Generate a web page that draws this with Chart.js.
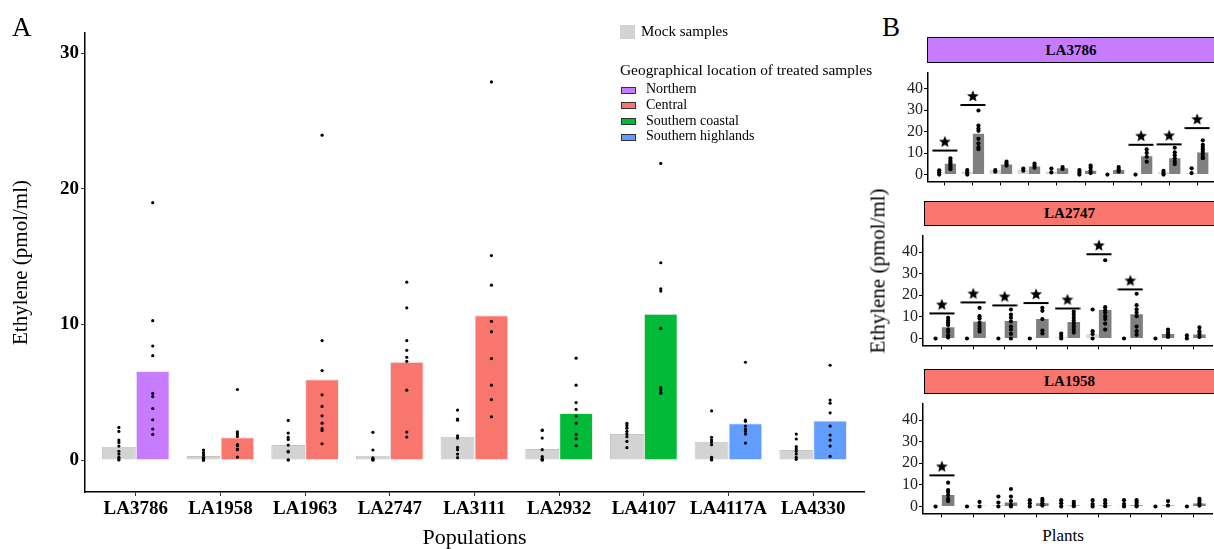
<!DOCTYPE html>
<html>
<head>
<meta charset="utf-8">
<script src="https://cdn.jsdelivr.net/npm/chart.js@4.4.0/dist/chart.umd.min.js"></script>
<style>
body { margin: 0; background: #fff; }
#wrap { position: relative; width: 1214px; height: 549px; overflow: hidden; font-family: "Liberation Serif", "Times New Roman", serif; color: #000; }
#wrap canvas { position: absolute; }
.lbl { position: absolute; white-space: nowrap; line-height: 1; }
.strip { position: absolute; box-sizing: border-box; border: 1.5px solid #000; font-weight: bold; font-size: 15px; display: flex; align-items: center; justify-content: center; }
.key { position: absolute; left: 621px; width: 15px; height: 7px; border: 1px solid #333; box-sizing: border-box; }
</style>
</head>
<body>
<div id="wrap">
  <canvas id="chartA" width="870" height="549" style="left:0;top:0"></canvas>
  <canvas id="chartB1" width="334" height="130" style="left:880px;top:62px"></canvas>
  <canvas id="chartB2" width="334" height="131" style="left:880px;top:225px"></canvas>
  <canvas id="chartB3" width="334" height="131" style="left:880px;top:393px"></canvas>

  <div class="lbl" style="left:12px;top:14px;font-size:27px">A</div>
  <div class="lbl" style="left:882px;top:14px;font-size:27px">B</div>

  <div id="legend"></div>

  <div class="strip" style="left:927px;top:37px;width:288px;height:26px;background:#C77CFF">LA3786</div>
  <div class="strip" style="left:924px;top:201px;width:291px;height:25px;background:#F8766D">LA2747</div>
  <div class="strip" style="left:924px;top:369px;width:291px;height:25px;background:#F8766D">LA1958</div>

  <div class="lbl" style="left:878px;top:271px;font-size:21px;transform:translate(-50%,-50%) rotate(-90deg)">Ethylene (pmol/ml)</div>
  <div class="lbl" style="left:1063px;top:535px;font-size:17px;transform:translate(-50%,-50%)">Plants</div>
</div>

<script>
// ---- panel A data ----
const populations = ['LA3786', 'LA1958', 'LA1963', 'LA2747', 'LA3111', 'LA2932', 'LA4107', 'LA4117A', 'LA4330'];
const popRegion = ['Northern', 'Central', 'Central', 'Central', 'Central', 'Southern coastal', 'Southern coastal', 'Southern highlands', 'Southern highlands'];
const regionNames = ['Northern', 'Central', 'Southern coastal', 'Southern highlands'];
const regionColors = ['#C77CFF', '#F8766D', '#00BA38', '#619CFF'];
const yTicksA = [0, 10, 20, 30];

const mockMean = [0.98, 0.29, 1.10, 0.32, 1.72, 0.81, 1.91, 1.35, 0.74];
const treatedMean = [6.57, 1.67, 5.96, 7.24, 10.67, 3.46, 10.79, 2.72, 2.92];

const mockPts = [
	[2.40, 2.11, 1.47, 1.30, 1.03, 0.64, 0.44, 0.20, 0.07, 0],
	[0.74, 0.55, 0.39, 0.20, 0.10, 0.02, 0, 0, 0],
	[2.92, 1.99, 1.67, 1.52, 1.10, 0.64, 0.59, 0.02, 0],
	[2.04, 0.74, 0.15, 0.05, 0, 0],
	[3.68, 3.02, 2.94, 1.79, 1.62, 0.93, 0.76, 0.44, 0.17],
	[2.21, 2.18, 1.62, 0.76, 0.25, 0.10, 0.05, 0, 0],
	[2.70, 2.53, 2.35, 2.11, 1.91, 1.72, 1.37, 0.91],
	[3.63, 1.67, 1.47, 1.32, 1.13, 0.20, 0.05, 0],
	[1.91, 1.55, 0.98, 0.81, 0.64, 0.44, 0.20, 0.05]
];
const treatedPts = [
	[18.98, 10.28, 8.41, 7.70, 4.91, 4.68, 3.80, 2.97, 2.28, 1.89],
	[5.20, 2.08, 1.91, 1.74, 1.13, 1.05, 0.81, 0.76, 0.22],
	[23.96, 8.81, 6.60, 4.81, 3.95, 3.26, 2.72, 2.31, 2.18, 1.20],
	[13.12, 11.23, 8.81, 8.09, 7.58, 7.28, 5.15, 2.06, 1.69],
	[27.89, 15.08, 12.90, 10.23, 9.47, 7.48, 5.52, 4.46, 3.19],
	[7.51, 5.52, 4.24, 3.73, 3.24, 2.72, 1.89, 1.57, 1.05],
	[21.88, 14.55, 12.63, 12.46, 9.71, 5.35, 5.18, 4.98, 4.93],
	[7.21, 2.94, 2.85, 2.50, 2.28, 2.11, 1.91, 1.25],
	[6.99, 4.42, 4.19, 3.48, 2.50, 1.84, 1.47, 1.03, 0.27]
];

// ---- panel B data ----
const yTicksB = [0, 10, 20, 30, 40];

const b1Mock = [0.3, 1.4, 2.1, 2.2, 1.4, 0.3, 0, 0, 1.1, 0.7];
const b1Treated = [5.0, 19.0, 4.7, 3.75, 2.9, 1.8, 2.1, 8.6, 7.6, 10.3];
const b1MockPts = [[2.0, 1.0, 0], [2.1, 1.0, 0], [2.1, 1.3], [2.8, 1.8], [2.8, 1.0], [2.1, 1.0, 0], [0], [0], [1.7, 0.7, 0], [2.9, 0.7]];
const b1TreatedPts = [
	[7.6, 6.5, 5.6, 4.9, 4.0, 3.2, 2.5], [29.9, 22.9, 21.5, 20.4, 16.7, 14.6, 12.8, 11.8], [6.0, 5.1, 4.2],
	[5.1, 4.2, 3.2], [3.5, 2.6], [4.2, 3.2, 1.8, 0.7], [3.5, 2.5, 1.4], [11.8, 10.1, 8.3, 6.0],
	[12.5, 10.4, 9.0, 7.6, 6.0, 4.9], [16.0, 13.9, 12.9, 11.8, 10.7, 9.7, 8.3, 7.6]
];
const b1Sig = [11.2, 32.5, null, null, null, null, null, 13.9, 14.1, 21.7];

const b2Mock = [0, 0, 0, 0, 0.6, 2.1, 0, 0, 0.3];
const b2Treated = [5.2, 7.7, 8.1, 9.0, 7.6, 13.2, 11.2, 2.1, 1.8];
const b2MockPts = [[0], [0], [0], [0], [2.3, 1.2, 0], [13.4, 3.4, 2.1, 0], [0], [0], [1.4, 0]];
const b2TreatedPts = [
	[9.6, 8.3, 7.3, 6.2, 4.1, 3.0, 1.4, 0.4], [14.2, 10.3, 9.2, 7.3, 5.9, 4.4, 3.2], [13.4, 11.0, 9.6, 7.9, 5.5, 4.1, 2.1, 0],
	[14.2, 12.8, 9.0, 3.7, 2.3], [12.4, 11.0, 9.6, 8.3, 6.9, 5.5, 4.1, 2.75], [36.2, 14.5, 13.1, 12.0, 10.3, 9.0, 6.9, 4.1],
	[20.7, 15.4, 13.5, 12.0, 10.3, 5.5, 3.4, 1.7], [4.1, 2.8, 1.7, 0.7], [5.1, 3.4, 2.1, 0.7]
];
const b2Sig = [11.6, 16.7, 15.3, 16.4, 13.9, 39.0, 22.7, null, null];

const b3Mock = [0, 0, 0.7, 0.3, 0.3, 0.3, 0.4, 0, 0];
const b3Treated = [5.3, 0.3, 1.8, 1.5, 0.4, 0.4, 0.6, 0.4, 1.4];
const b3MockPts = [[0], [0], [4.6, 1.8, 0], [2.9, 1.5, 0], [2.9, 1.5, 0], [2.9, 1.1, 0], [2.9, 1.1, 0], [0], [0]];
const b3TreatedPts = [
	[11.0, 7.6, 6.7, 5.3, 3.5, 2.5], [2.1, 0], [8.1, 4.6, 2.5, 0.7, 0], [3.5, 2.5, 1.5, 0.4], [2.2, 1.1, 0.1],
	[2.9, 1.5, 0.1], [2.9, 1.8, 0.7, 0], [2.5, 0.4], [3.5, 2.5, 1.5, 0.4]
];
const b3Sig = [14.4, null, null, null, null, null, null, null, null];

const serif = "'Liberation Serif', 'Times New Roman', serif";
Chart.defaults.font.family = serif;

/* legend for panel A */
const legend = document.getElementById('legend');
legend.innerHTML =
	'<div style="position:absolute;left:620px;top:25px;width:15px;height:14px;background:#d3d3d3"></div>' +
	'<div class="lbl" style="left:641px;top:24px;font-size:15px">Mock samples</div>' +
	'<div class="lbl" style="left:620px;top:62px;font-size:15.4px">Geographical location of treated samples</div>';
regionNames.forEach(function(name, k) {
	const cy = 90 + k * 15.7;
	legend.innerHTML += '<div class="key" style="top:' + (cy - 3.5) + 'px;background:' + regionColors[k] + '"></div>' +
		'<div class="lbl" style="left:646px;top:' + (cy - 7.7) + 'px;font-size:14px">' + name + '</div>';
});

/* significance mark: bar with a star above it */
function makeSigMark() {
	const c = document.createElement('canvas');
	c.width = 26;
	c.height = 34;
	const g = c.getContext('2d');
	g.fillStyle = '#000';
	g.fillRect(0.5, 16, 25, 2);
	g.beginPath();
	for (let k = 0; k < 10; k++) {
		const a = -Math.PI / 2 + k * Math.PI / 5;
		const r = k % 2 ? 2.7 : 6.2;
		g.lineTo(13 + r * Math.cos(a), 8.5 + r * Math.sin(a));
	}
	g.closePath();
	g.fill();
	return c;
}
const sigMark = makeSigMark();

function barData(values) {
	return values.map((v, i) => ({ x: i + 1, y: v }));
}
function pointData(groups, shift) {
	const out = [];
	groups.forEach((g, i) => g.forEach(v => out.push({ x: i + 1 + shift, y: v })));
	return out;
}
function sigData(values) {
	const out = [];
	values.forEach((v, i) => { if (v !== null) out.push({ x: i + 1, y: v }); });
	return out;
}

/* Panel A */
new Chart(document.getElementById('chartA'), {
	type: 'bar',
	data: {
		datasets: [{
			label: 'Mock samples',
			data: barData(mockMean),
			backgroundColor: '#d3d3d3',
			borderColor: '#c4c4c4',
			borderWidth: 1,
			categoryPercentage: 0.8,
			barPercentage: 1,
			order: 2
		}, {
			label: 'Treated',
			data: barData(treatedMean),
			backgroundColor: popRegion.map(r => regionColors[regionNames.indexOf(r)]),
			borderColor: 'rgba(0,0,0,0.08)',
			borderWidth: 1,
			categoryPercentage: 0.8,
			barPercentage: 1,
			order: 2
		}, {
			type: 'scatter',
			data: pointData(mockPts, -0.2),
			pointRadius: 1.6,
			pointBackgroundColor: '#000',
			pointBorderWidth: 0,
			order: 1
		}, {
			type: 'scatter',
			data: pointData(treatedPts, 0.2),
			pointRadius: 1.6,
			pointBackgroundColor: '#000',
			pointBorderWidth: 0,
			order: 1
		}]
	},
	options: {
		responsive: false,
		animation: false,
		layout: { padding: { top: 33, right: 6, left: 0, bottom: 0 }, autoPadding: false },
		plugins: { legend: { display: false }, tooltip: { enabled: false } },
		scales: {
			x: {
				type: 'linear',
				offset: false,
				min: 0.4,
				max: 9.6,
				afterBuildTicks: ax => { ax.ticks = populations.map((p, i) => ({ value: i + 1 })); },
				afterFit: ax => { ax.height = 57; },
				ticks: {
					autoSkip: false, maxRotation: 0, padding: 2, color: '#000',
					font: { size: 19, weight: 'bold' },
					callback: v => populations[v - 1]
				},
				grid: { offset: false, drawOnChartArea: false, tickLength: 4, color: '#333' },
				border: { color: '#000', width: 1.5 },
				title: { display: true, text: 'Populations', color: '#000', font: { size: 22, lineHeight: 1 }, padding: 0 }
			},
			y: {
				min: -2.36,
				max: 31.5,
				afterBuildTicks: ax => { ax.ticks = yTicksA.map(v => ({ value: v })); },
				afterFit: ax => { ax.width = 85; },
				ticks: { padding: 2, color: '#000', font: { size: 19, weight: 'bold' } },
				grid: { drawOnChartArea: false, tickLength: 4, color: '#333' },
				border: { color: '#000', width: 1.5 },
				title: { display: true, text: 'Ethylene (pmol/ml)', color: '#000', font: { size: 21, lineHeight: 1 }, padding: { top: 11, bottom: 11 } }
			}
		}
	}
});

/* Panel B facets */
function facetChart(id, mock, treated, mockP, treatedP, sig, axisWidth, rightPad) {
	const n = mock.length;
	new Chart(document.getElementById(id), {
		type: 'bar',
		data: {
			datasets: [{
				data: barData(mock),
				backgroundColor: '#d9d9d9',
				categoryPercentage: 0.8,
				barPercentage: 1,
				order: 2
			}, {
				data: barData(treated),
				backgroundColor: '#7f7f7f',
				categoryPercentage: 0.8,
				barPercentage: 1,
				order: 2
			}, {
				type: 'scatter',
				data: pointData(mockP, -0.2),
				pointRadius: 2.1,
				pointBackgroundColor: '#000',
				pointBorderWidth: 0,
				order: 1
			}, {
				type: 'scatter',
				data: pointData(treatedP, 0.2),
				pointRadius: 2.1,
				pointBackgroundColor: '#000',
				pointBorderWidth: 0,
				order: 1
			}, {
				type: 'scatter',
				data: sigData(sig),
				pointStyle: sigMark,
				pointRadius: 3,
				order: 0
			}]
		},
		options: {
			responsive: false,
			animation: false,
			layout: { padding: { top: 0, right: rightPad, left: 0, bottom: 0 }, autoPadding: false },
			plugins: { legend: { display: false }, tooltip: { enabled: false } },
			scales: {
				x: {
					type: 'linear',
					offset: false,
					min: 0.4,
					max: n + 0.6,
					afterBuildTicks: ax => { ax.ticks = mock.map((v, i) => ({ value: i + 1 })); },
					afterFit: ax => { ax.height = 8; },
					ticks: { autoSkip: false, maxRotation: 0, callback: () => '' },
					grid: { offset: false, drawOnChartArea: false, tickLength: 4, color: '#000' },
					border: { color: '#000', width: 1.5 }
				},
				y: {
					min: -3.2,
					max: 47.6,
					afterBuildTicks: ax => { ax.ticks = yTicksB.map(v => ({ value: v })); },
					afterFit: ax => { ax.width = axisWidth; },
					ticks: { padding: 1, color: '#222', font: { size: 16 } },
					grid: { drawOnChartArea: false, tickLength: 4, color: '#000' },
					border: { color: '#000', width: 1.5 }
				}
			}
		}
	});
}

facetChart('chartB1', b1Mock, b1Treated, b1MockPts, b1TreatedPts, b1Sig, 48, 0);
facetChart('chartB2', b2Mock, b2Treated, b2MockPts, b2TreatedPts, b2Sig, 43, 2);
facetChart('chartB3', b3Mock, b3Treated, b3MockPts, b3TreatedPts, b3Sig, 43, 2);
</script>
</body>
</html>
